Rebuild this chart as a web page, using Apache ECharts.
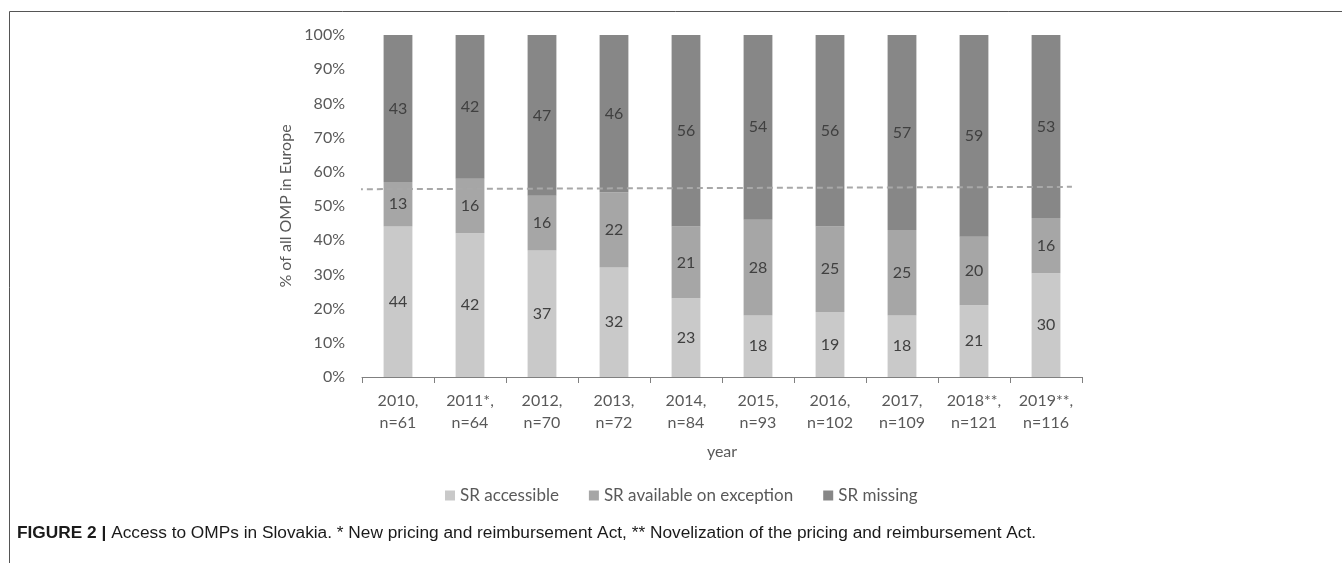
<!DOCTYPE html>
<html>
<head>
<meta charset="utf-8">
<title>Access to OMPs in Slovakia</title>
<script src="https://cdn.jsdelivr.net/npm/echarts@6/dist/echarts.min.js"></script>
<style>
  html, body { margin: 0; padding: 0; background: #ffffff; }
  #chart { width: 1342px; height: 563px; }
</style>
</head>
<body>
<div id="chart"></div>
<script>
// Category labels (year, number of OMPs)
const categories = [
  '2010,\nn=61', '2011*,\nn=64', '2012,\nn=70', '2013,\nn=72', '2014,\nn=84',
  '2015,\nn=93', '2016,\nn=102', '2017,\nn=109', '2018**,\nn=121', '2019**,\nn=116'
];

// Series values (% of all OMP in Europe)
const srAccessible = [44, 42, 37, 32, 23, 18, 19, 18, 21, 30];
const srException  = [13, 16, 16, 22, 21, 28, 25, 25, 20, 16];
const srMissing    = [43, 42, 47, 46, 56, 54, 56, 57, 59, 53];

// Reference line (dashed), as [position along categories, %]
const refLine = [[-0.71, 54.9], [9.36, 55.6]];

const yTicks = [0, 10, 20, 30, 40, 50, 60, 70, 80, 90, 100];

const seriesNames = ['SR accessible', 'SR available on exception', 'SR missing'];
const seriesColors = ['#c9c9c9', '#a6a6a6', '#878787'];
const raw = [srAccessible, srException, srMissing];

// Each column is drawn as a share of its own total, labelled with the stated value
const totals = categories.map((_, i) => raw.reduce((s, arr) => s + arr[i], 0));

const FONT = 'Lato, "Open Sans", sans-serif';

const barSeries = raw.map((arr, k) => ({
  name: seriesNames[k],
  type: 'bar',
  stack: 'all',
  barWidth: '40%',
  itemStyle: { color: seriesColors[k] },
  label: {
    show: true,
    position: 'inside',
    color: '#404040',
    fontFamily: FONT,
    fontSize: 16,
    formatter: p => String(arr[p.dataIndex])
  },
  emphasis: { disabled: true },
  data: arr.map((v, i) => v / totals[i] * 100)
}));

const chart = echarts.init(document.getElementById('chart'), null, { renderer: 'canvas' });

chart.setOption({
  animation: false,
  textStyle: { fontFamily: FONT },
  grid: { left: 362, right: 260, top: 35, bottom: 186, containLabel: false },
  title: {
    left: 17,
    top: 525,
    padding: 0,
    text: '{b|FIGURE 2 |} Access to OMPs in Slovakia. * New pricing and reimbursement Act, ** Novelization of the pricing and reimbursement Act.',
    textStyle: {
      fontFamily: '"Liberation Sans", Arial, sans-serif',
      fontSize: 17.3,
      fontWeight: 'normal',
      color: '#1a1a1a',
      rich: {
        b: { fontFamily: '"Liberation Sans", Arial, sans-serif', fontSize: 17.3, fontWeight: 'bold', color: '#1a1a1a' }
      }
    }
  },
  legend: {
    data: seriesNames,
    top: 482,
    left: 440,
    itemWidth: 10,
    itemHeight: 10,
    itemGap: 30,
    icon: 'rect',
    textStyle: { color: '#595959', fontSize: 17, fontFamily: FONT }
  },
  xAxis: [
    {
      type: 'category',
      data: categories,
      name: 'year',
      nameLocation: 'middle',
      nameGap: 67,
      nameTextStyle: { color: '#595959', fontSize: 16, fontFamily: FONT },
      axisLine: { lineStyle: { color: '#808080', width: 1 } },
      axisTick: { show: true, length: 6, lineStyle: { color: '#808080' } },
      axisLabel: { color: '#595959', fontSize: 16, lineHeight: 22, margin: 13, fontFamily: FONT }
    },
    {
      type: 'value',
      min: -0.5,
      max: 9.5,
      show: false
    }
  ],
  yAxis: {
    type: 'value',
    min: 0,
    max: 100,
    interval: 10,
    name: '% of all OMP in Europe',
    nameLocation: 'middle',
    nameGap: 64,
    nameTextStyle: { color: '#595959', fontSize: 16, fontFamily: FONT },
    axisLine: { show: false },
    axisTick: { show: false },
    splitLine: { show: false },
    axisLabel: {
      color: '#595959',
      fontSize: 16,
      margin: 17,
      fontFamily: FONT,
      formatter: v => (yTicks.includes(v) ? v + '%' : '')
    }
  },
  series: barSeries.concat([{
    name: 'reference',
    type: 'line',
    xAxisIndex: 1,
    symbol: 'none',
    silent: true,
    z: 5,
    lineStyle: { color: '#a8a8a8', width: 2, type: [6, 4] },
    data: refLine
  }]),
  graphic: [{
    type: 'polyline',
    silent: true,
    shape: { points: [[9.5, 563], [9.5, 11.5], [1342, 11.5]] },
    style: { stroke: '#555555', lineWidth: 1, fill: null }
  }]
});
</script>
</body>
</html>
